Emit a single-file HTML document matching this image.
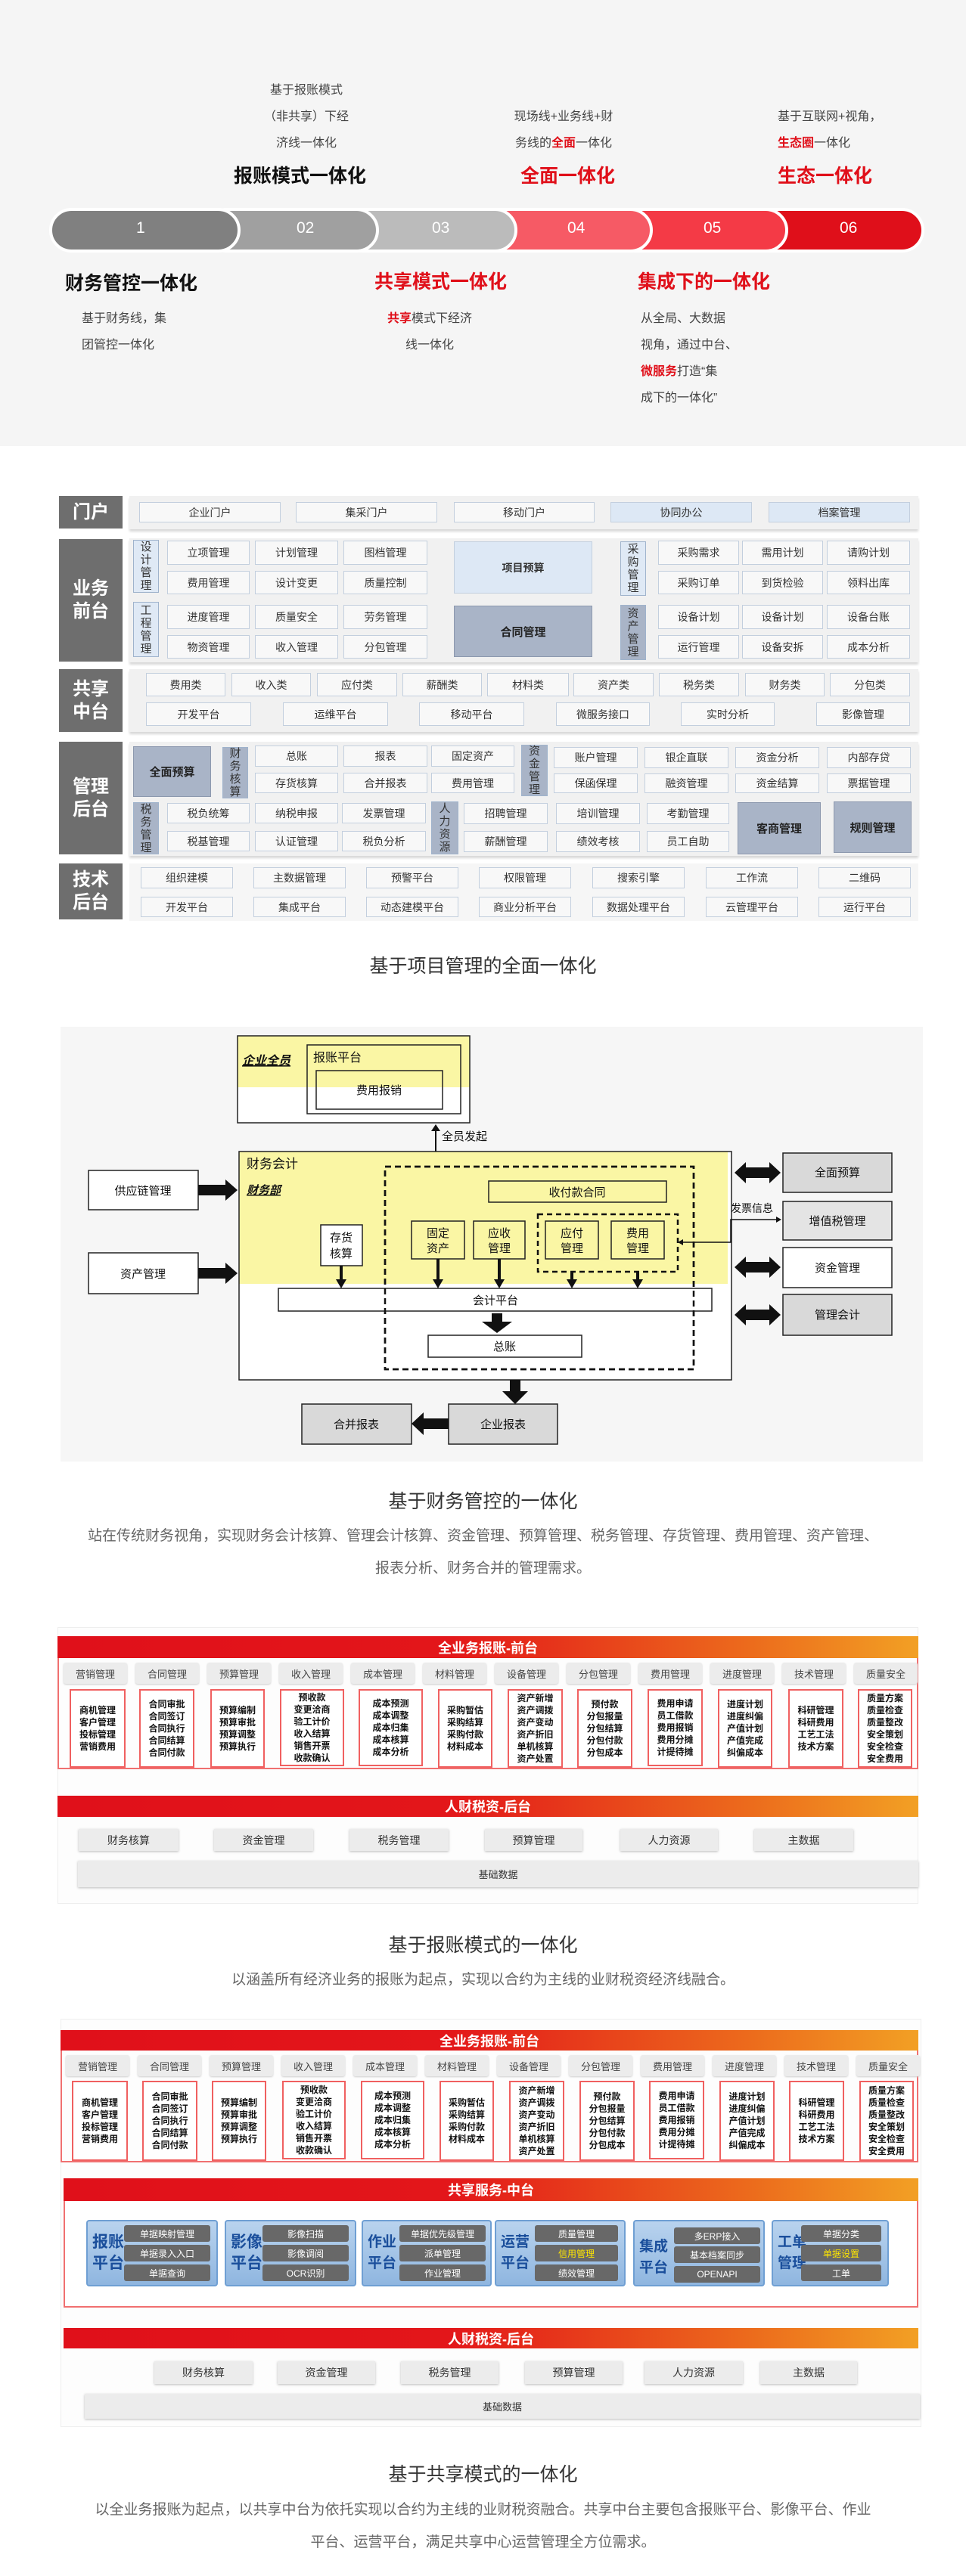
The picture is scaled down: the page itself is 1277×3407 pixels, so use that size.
<!DOCTYPE html>
<html><head><meta charset="utf-8">
<style>
*{margin:0;padding:0;box-sizing:border-box}
body{width:1277px;height:3407px;position:relative;background:#fff;font-family:"Liberation Sans","Noto Sans CJK SC",sans-serif;color:#333;overflow:hidden}
.a{position:absolute}
.c{position:absolute;display:flex;align-items:center;justify-content:center;text-align:center}
.t{position:absolute;white-space:nowrap}
.pill{position:absolute;top:275px;height:59px;border-radius:30px;border:4px solid #fff;color:#fff;font-size:21px;display:flex;align-items:center;justify-content:center}
.lb{background:#6e6e6e;color:#fff;font-weight:bold;font-size:24px;line-height:30px}
.row{background:#f1f1f1;box-shadow:0 3px 3px #d8d8d8}
.it{background:#f8f8f8;border:1px solid #c3cfde;font-size:14px;color:#333}
.lt{background:#dde8f5}
.vl{background:#dfe9f5;border:1px solid #9fb3cc;font-size:15px;line-height:17px;color:#333}
.gb{background:#a9b4c7;border:1px solid #8c98ae;font-weight:bold;font-size:15px;color:#222}
.cap{position:absolute;left:0;width:1277px;text-align:center;font-size:25px;color:#333;line-height:30px}
.par{position:absolute;left:0;width:1277px;text-align:center;font-size:19px;color:#666;line-height:24px;white-space:nowrap}
.ban{position:absolute;left:76px;width:1138px;background:linear-gradient(90deg,#e0101a 0%,#e3161a 45%,#ec6a1c 80%,#f2a024 100%);color:#fff;font-weight:bold;font-size:18px;display:flex;align-items:center;justify-content:center}
.hd{position:absolute;width:84px;height:28px;background:#ececec;border-radius:3px;box-shadow:0 1px 2px #ccc;font-size:13px;color:#444;display:flex;align-items:center;justify-content:center}
.bx{position:absolute;border:2px solid #f06060;background:#fff;font-size:12px;line-height:16px;color:#111;font-weight:bold;display:flex;align-items:center;justify-content:center;text-align:center}
.gi{position:absolute;background:#ececec;box-shadow:0 1px 3px #bbb;font-size:14px;color:#333;display:flex;align-items:center;justify-content:center}
.pb{position:absolute;top:2936px;height:88px;background:linear-gradient(#b9d3ee,#8fb6e0);border:2px solid #6f9fd3;border-radius:4px}
.pl{position:absolute;left:6px;top:14px;font-size:21px;font-weight:bold;color:#1b4f9c;line-height:28px}
.btn{position:absolute;height:22px;background:#686868;border-radius:3px;color:#fff;font-size:12px;display:flex;align-items:center;justify-content:center;white-space:nowrap}
</style></head><body>

<!-- SECTION 1 -->
<div class="a" style="left:0;top:0;width:1277px;height:590px;background:#f5f5f5"></div>
<div class="pill" style="left:990px;width:232px;background:#df0f1a"></div>
<div class="pill" style="left:810px;width:232px;background:#f43a46"></div>
<div class="pill" style="left:630px;width:233px;background:#f65a65"></div>
<div class="pill" style="left:450px;width:234px;background:#bbbbbb"></div>
<div class="pill" style="left:270px;width:231px;background:#a0a0a0"></div>
<div class="pill" style="left:65px;width:253px;background:#808080"></div>
<div class="t" style="left:180px;top:290px;color:#fff;font-size:21px">1</div>
<div class="t" style="left:392px;top:290px;color:#fff;font-size:21px">02</div>
<div class="t" style="left:571px;top:290px;color:#fff;font-size:21px">03</div>
<div class="t" style="left:750px;top:290px;color:#fff;font-size:21px">04</div>
<div class="t" style="left:930px;top:290px;color:#fff;font-size:21px">05</div>
<div class="t" style="left:1110px;top:290px;color:#fff;font-size:21px">06</div>

<div class="a" style="left:320px;top:102px;width:170px;text-align:center;font-size:16px;line-height:35px;color:#444">基于报账模式<br>（非共享）下经<br>济线一体化</div>
<div class="t" style="left:309px;top:213px;font-size:25px;font-weight:bold;color:#111">报账模式一体化</div>
<div class="a" style="left:660px;top:137px;width:170px;text-align:center;font-size:16px;line-height:35px;color:#444">现场线+业务线+财<br>务线的<b style="color:#e0101a">全面</b>一体化</div>
<div class="t" style="left:688px;top:213px;font-size:25px;font-weight:bold;color:#e0101a">全面一体化</div>
<div class="a" style="left:1028px;top:137px;width:170px;font-size:16px;line-height:35px;color:#444">基于互联网+视角，<br><b style="color:#e0101a">生态圈</b>一体化</div>
<div class="t" style="left:1028px;top:213px;font-size:25px;font-weight:bold;color:#e0101a">生态一体化</div>

<div class="t" style="left:86px;top:355px;font-size:25px;font-weight:bold;color:#111">财务管控一体化</div>
<div class="a" style="left:108px;top:404px;font-size:16px;line-height:35px;color:#444">基于财务线，集<br>团管控一体化</div>
<div class="t" style="left:495px;top:353px;font-size:25px;font-weight:bold;color:#e0101a">共享模式一体化</div>
<div class="a" style="left:498px;top:404px;width:140px;text-align:center;font-size:16px;line-height:35px;color:#444"><b style="color:#e0101a">共享</b>模式下经济<br>线一体化</div>
<div class="t" style="left:843px;top:353px;font-size:25px;font-weight:bold;color:#e0101a">集成下的一体化</div>
<div class="a" style="left:847px;top:404px;font-size:16px;line-height:35px;color:#444">从全局、大数据<br>视角，通过中台、<br><b style="color:#e0101a">微服务</b>打造“集<br>成下的一体化”</div>

<!-- SECTION 2 -->
<div class="c lb" style="left:78px;top:656px;width:84px;height:43px">门户</div>
<div class="a row" style="left:171px;top:656px;width:1043px;height:44px"></div>
<div class="c it" style="left:184px;top:664px;width:187px;height:27px">企业门户</div>
<div class="c it" style="left:391px;top:664px;width:187px;height:27px">集采门户</div>
<div class="c it" style="left:600px;top:664px;width:186px;height:27px">移动门户</div>
<div class="c it lt" style="left:807px;top:664px;width:187px;height:27px">协同办公</div>
<div class="c it lt" style="left:1016px;top:664px;width:187px;height:27px">档案管理</div>

<div class="c lb" style="left:78px;top:713px;width:84px;height:162px">业务<br>前台</div>
<div class="a row" style="left:171px;top:712px;width:1043px;height:164px"></div>
<div class="c vl" style="left:176px;top:714px;width:34px;height:70px">设<br>计<br>管<br>理</div>
<div class="c vl" style="left:176px;top:796px;width:34px;height:73px">工<br>程<br>管<br>理</div>
<div class="c it" style="left:221px;top:715px;width:109px;height:32px">立项管理</div>
<div class="c it" style="left:337px;top:715px;width:110px;height:32px">计划管理</div>
<div class="c it" style="left:454px;top:715px;width:111px;height:32px">图档管理</div>
<div class="c it" style="left:221px;top:755px;width:109px;height:31px">费用管理</div>
<div class="c it" style="left:337px;top:755px;width:110px;height:31px">设计变更</div>
<div class="c it" style="left:454px;top:755px;width:111px;height:31px">质量控制</div>
<div class="c it" style="left:221px;top:800px;width:109px;height:32px">进度管理</div>
<div class="c it" style="left:337px;top:800px;width:110px;height:32px">质量安全</div>
<div class="c it" style="left:454px;top:800px;width:111px;height:32px">劳务管理</div>
<div class="c it" style="left:221px;top:840px;width:109px;height:31px">物资管理</div>
<div class="c it" style="left:337px;top:840px;width:110px;height:31px">收入管理</div>
<div class="c it" style="left:454px;top:840px;width:111px;height:31px">分包管理</div>
<div class="c it lt" style="left:600px;top:716px;width:183px;height:69px;font-weight:bold">项目预算</div>
<div class="c gb" style="left:600px;top:801px;width:183px;height:68px">合同管理</div>
<div class="c vl" style="left:820px;top:716px;width:34px;height:72px">采<br>购<br>管<br>理</div>
<div class="c vl" style="left:820px;top:800px;width:34px;height:73px;background:#a9b4c7">资<br>产<br>管<br>理</div>
<div class="c it" style="left:870px;top:715px;width:107px;height:32px">采购需求</div>
<div class="c it" style="left:981px;top:715px;width:107px;height:32px">需用计划</div>
<div class="c it" style="left:1093px;top:715px;width:110px;height:32px">请购计划</div>
<div class="c it" style="left:870px;top:755px;width:107px;height:31px">采购订单</div>
<div class="c it" style="left:981px;top:755px;width:107px;height:31px">到货检验</div>
<div class="c it" style="left:1093px;top:755px;width:110px;height:31px">领料出库</div>
<div class="c it" style="left:870px;top:800px;width:107px;height:32px">设备计划</div>
<div class="c it" style="left:981px;top:800px;width:107px;height:32px">设备计划</div>
<div class="c it" style="left:1093px;top:800px;width:110px;height:32px">设备台账</div>
<div class="c it" style="left:870px;top:840px;width:107px;height:31px">运行管理</div>
<div class="c it" style="left:981px;top:840px;width:107px;height:31px">设备安拆</div>
<div class="c it" style="left:1093px;top:840px;width:110px;height:31px">成本分析</div>

<div class="c lb" style="left:78px;top:885px;width:84px;height:83px">共享<br>中台</div>
<div class="a row" style="left:171px;top:885px;width:1043px;height:83px"></div>
<div class="c it" style="left:193px;top:890px;width:105px;height:31px">费用类</div>
<div class="c it" style="left:306px;top:890px;width:105px;height:31px">收入类</div>
<div class="c it" style="left:419px;top:890px;width:106px;height:31px">应付类</div>
<div class="c it" style="left:532px;top:890px;width:105px;height:31px">薪酬类</div>
<div class="c it" style="left:644px;top:890px;width:108px;height:31px">材料类</div>
<div class="c it" style="left:758px;top:890px;width:106px;height:31px">资产类</div>
<div class="c it" style="left:871px;top:890px;width:106px;height:31px">税务类</div>
<div class="c it" style="left:985px;top:890px;width:105px;height:31px">财务类</div>
<div class="c it" style="left:1097px;top:890px;width:106px;height:31px">分包类</div>
<div class="c it" style="left:193px;top:929px;width:139px;height:31px">开发平台</div>
<div class="c it" style="left:374px;top:929px;width:139px;height:31px">运维平台</div>
<div class="c it" style="left:554px;top:929px;width:139px;height:31px">移动平台</div>
<div class="c it" style="left:735px;top:929px;width:124px;height:31px">微服务接口</div>
<div class="c it" style="left:900px;top:929px;width:124px;height:31px">实时分析</div>
<div class="c it" style="left:1079px;top:929px;width:124px;height:31px">影像管理</div>

<div class="c lb" style="left:78px;top:981px;width:84px;height:149px">管理<br>后台</div>
<div class="a row" style="left:171px;top:981px;width:1043px;height:151px"></div>
<div class="c gb" style="left:176px;top:987px;width:103px;height:67px">全面预算</div>
<div class="c vl" style="left:294px;top:988px;width:34px;height:68px;background:#a9b4c7">财<br>务<br>核<br>算</div>
<div class="c it" style="left:337px;top:986px;width:110px;height:28px">总账</div>
<div class="c it" style="left:454px;top:986px;width:111px;height:28px">报表</div>
<div class="c it" style="left:570px;top:986px;width:110px;height:28px">固定资产</div>
<div class="c it" style="left:337px;top:1022px;width:110px;height:27px">存货核算</div>
<div class="c it" style="left:454px;top:1022px;width:111px;height:27px">合并报表</div>
<div class="c it" style="left:570px;top:1022px;width:110px;height:27px">费用管理</div>
<div class="c vl" style="left:689px;top:985px;width:35px;height:68px;background:#a9b4c7">资<br>金<br>管<br>理</div>
<div class="c it" style="left:732px;top:988px;width:111px;height:28px">账户管理</div>
<div class="c it" style="left:852px;top:988px;width:111px;height:28px">银企直联</div>
<div class="c it" style="left:972px;top:988px;width:111px;height:28px">资金分析</div>
<div class="c it" style="left:1093px;top:988px;width:111px;height:28px">内部存贷</div>
<div class="c it" style="left:732px;top:1023px;width:111px;height:26px">保函保理</div>
<div class="c it" style="left:852px;top:1023px;width:111px;height:26px">融资管理</div>
<div class="c it" style="left:972px;top:1023px;width:111px;height:26px">资金结算</div>
<div class="c it" style="left:1093px;top:1023px;width:111px;height:26px">票据管理</div>
<div class="c vl" style="left:176px;top:1061px;width:34px;height:69px;background:#a9b4c7">税<br>务<br>管<br>理</div>
<div class="c it" style="left:221px;top:1062px;width:109px;height:27px">税负统筹</div>
<div class="c it" style="left:337px;top:1062px;width:110px;height:27px">纳税申报</div>
<div class="c it" style="left:452px;top:1062px;width:111px;height:27px">发票管理</div>
<div class="c it" style="left:221px;top:1099px;width:109px;height:27px">税基管理</div>
<div class="c it" style="left:337px;top:1099px;width:110px;height:27px">认证管理</div>
<div class="c it" style="left:452px;top:1099px;width:111px;height:27px">税负分析</div>
<div class="c vl" style="left:570px;top:1060px;width:36px;height:70px;background:#a9b4c7">人<br>力<br>资<br>源</div>
<div class="c it" style="left:613px;top:1062px;width:111px;height:28px">招聘管理</div>
<div class="c it" style="left:735px;top:1062px;width:111px;height:28px">培训管理</div>
<div class="c it" style="left:855px;top:1062px;width:109px;height:28px">考勤管理</div>
<div class="c it" style="left:613px;top:1099px;width:111px;height:28px">薪酬管理</div>
<div class="c it" style="left:735px;top:1099px;width:111px;height:28px">绩效考核</div>
<div class="c it" style="left:855px;top:1099px;width:109px;height:28px">员工自助</div>
<div class="c gb" style="left:975px;top:1061px;width:110px;height:69px">客商管理</div>
<div class="c gb" style="left:1102px;top:1060px;width:103px;height:68px">规则管理</div>

<div class="c lb" style="left:78px;top:1142px;width:84px;height:74px">技术<br>后台</div>
<div class="a" style="left:171px;top:1142px;width:1043px;height:76px;background:#f6f6f6"></div>
<div class="c it" style="left:186px;top:1147px;width:122px;height:28px">组织建模</div>
<div class="c it" style="left:335px;top:1147px;width:122px;height:28px">主数据管理</div>
<div class="c it" style="left:484px;top:1147px;width:122px;height:28px">预警平台</div>
<div class="c it" style="left:633px;top:1147px;width:122px;height:28px">权限管理</div>
<div class="c it" style="left:783px;top:1147px;width:122px;height:28px">搜索引擎</div>
<div class="c it" style="left:933px;top:1147px;width:122px;height:28px">工作流</div>
<div class="c it" style="left:1082px;top:1147px;width:122px;height:28px">二维码</div>
<div class="c it" style="left:186px;top:1186px;width:122px;height:27px">开发平台</div>
<div class="c it" style="left:335px;top:1186px;width:122px;height:27px">集成平台</div>
<div class="c it" style="left:484px;top:1186px;width:122px;height:27px">动态建模平台</div>
<div class="c it" style="left:633px;top:1186px;width:122px;height:27px">商业分析平台</div>
<div class="c it" style="left:783px;top:1186px;width:122px;height:27px">数据处理平台</div>
<div class="c it" style="left:933px;top:1186px;width:122px;height:27px">云管理平台</div>
<div class="c it" style="left:1082px;top:1186px;width:122px;height:27px">运行平台</div>
<div class="cap" style="top:1263px">基于项目管理的全面一体化</div>

<!-- SECTION 3 -->
<div class="a" style="left:80px;top:1358px;width:1140px;height:575px;background:#f6f6f6"></div>
<svg class="a" style="left:0;top:0" width="1277" height="3407" viewBox="0 0 1277 3407" font-family="Liberation Sans, Noto Sans CJK SC, sans-serif">
<rect x="314" y="1370" width="307" height="68" fill="#faf6a4"/>
<rect x="314" y="1438" width="307" height="47" fill="#fff"/>
<rect x="314" y="1370" width="307" height="115" fill="none" stroke="#222" stroke-width="1.5"/>
<rect x="406" y="1382" width="203" height="91" fill="none" stroke="#222" stroke-width="1.5"/>
<rect x="418" y="1416" width="167" height="51" fill="none" stroke="#222" stroke-width="1.5"/>
<text x="320" y="1408" font-size="16" font-weight="bold" font-style="italic" text-decoration="underline" fill="#111">企业全员</text>
<text x="414" y="1404" font-size="16" fill="#111">报账平台</text>
<text x="501" y="1447" font-size="15" text-anchor="middle" fill="#111">费用报销</text>
<line x1="576" y1="1494" x2="576" y2="1536" stroke="#111" stroke-width="2"/>
<polygon points="570,1496 582,1496 576,1487" fill="#111"/><polygon points="570,1534 582,1534 576,1543" fill="#111"/>
<text x="584" y="1508" font-size="15" fill="#111">全员发起</text>
<rect x="316" y="1523" width="651" height="302" fill="#fff"/>
<rect x="316" y="1523" width="646" height="175" fill="#faf6a4"/>
<rect x="316" y="1523" width="651" height="302" fill="none" stroke="#222" stroke-width="1.5"/>
<text x="326" y="1545" font-size="17" fill="#111">财务会计</text>
<text x="326" y="1579" font-size="15" font-weight="bold" font-style="italic" text-decoration="underline" fill="#111">财务部</text>
<rect x="509" y="1543" width="408" height="268" fill="none" stroke="#111" stroke-width="2.5" stroke-dasharray="8,5"/>
<rect x="646" y="1562" width="235" height="28" fill="none" stroke="#222" stroke-width="1.5"/>
<text x="763" y="1582" font-size="15" text-anchor="middle" fill="#111">收付款合同</text>
<rect x="711" y="1606" width="185" height="76" fill="none" stroke="#111" stroke-width="2.5" stroke-dasharray="7,5"/>
<rect x="424" y="1620" width="55" height="54" fill="#fff" stroke="#222" stroke-width="1.5"/>
<text x="451" y="1642" font-size="15" text-anchor="middle" fill="#111">存货</text><text x="451" y="1663" font-size="15" text-anchor="middle" fill="#111">核算</text>
<g fill="none" stroke="#222" stroke-width="1.5">
<rect x="544" y="1615" width="70" height="50"/><rect x="626" y="1615" width="68" height="50"/><rect x="721" y="1615" width="70" height="50"/><rect x="808" y="1615" width="70" height="50"/></g>
<g font-size="15" text-anchor="middle" fill="#111">
<text x="579" y="1636">固定</text><text x="579" y="1656">资产</text>
<text x="660" y="1636">应收</text><text x="660" y="1656">管理</text>
<text x="756" y="1636">应付</text><text x="756" y="1656">管理</text>
<text x="843" y="1636">费用</text><text x="843" y="1656">管理</text></g>
<g stroke="#111" stroke-width="4">
<line x1="451" y1="1674" x2="451" y2="1694"/><line x1="579" y1="1665" x2="579" y2="1694"/><line x1="660" y1="1665" x2="660" y2="1694"/><line x1="756" y1="1682" x2="756" y2="1694"/><line x1="843" y1="1682" x2="843" y2="1694"/></g>
<g fill="#111">
<polygon points="444,1692 458,1692 451,1704"/><polygon points="572,1692 586,1692 579,1704"/><polygon points="653,1692 667,1692 660,1704"/><polygon points="749,1692 763,1692 756,1704"/><polygon points="836,1692 850,1692 843,1704"/></g>
<rect x="368" y="1704" width="573" height="30" fill="#fff" stroke="#222" stroke-width="1.5"/>
<text x="655" y="1725" font-size="15" text-anchor="middle" fill="#111">会计平台</text>
<polygon points="650,1737 664,1737 664,1748 677,1748 657,1763 637,1748 650,1748" fill="#111"/>
<rect x="566" y="1766" width="203" height="29" fill="#fff" stroke="#222" stroke-width="1.5"/>
<text x="667" y="1786" font-size="15" text-anchor="middle" fill="#111">总账</text>
<rect x="509" y="1543" width="408" height="268" fill="none" stroke="#111" stroke-width="2.5" stroke-dasharray="8,5"/>
<g fill="#fff" stroke="#222" stroke-width="1.5"><rect x="117" y="1548" width="145" height="52"/><rect x="117" y="1657" width="145" height="54"/></g>
<text x="189" y="1580" font-size="15" text-anchor="middle" fill="#111">供应链管理</text>
<text x="189" y="1690" font-size="15" text-anchor="middle" fill="#111">资产管理</text>
<polygon points="262,1567 298,1567 298,1560 314,1574 298,1588 298,1581 262,1581" fill="#111"/>
<polygon points="262,1677 298,1677 298,1670 314,1684 298,1698 298,1691 262,1691" fill="#111"/>
<g stroke="#222" stroke-width="1.5"><rect x="1035" y="1525" width="144" height="52" fill="#d9d9d9"/><rect x="1035" y="1589" width="144" height="51" fill="#e4e4e4"/><rect x="1035" y="1650" width="144" height="53" fill="#fff"/><rect x="1035" y="1712" width="144" height="54" fill="#d9d9d9"/></g>
<g font-size="15" text-anchor="middle" fill="#111"><text x="1107" y="1556">全面预算</text><text x="1107" y="1620">增值税管理</text><text x="1107" y="1682">资金管理</text><text x="1107" y="1744">管理会计</text></g>
<g fill="#111">
<polygon points="971,1551 986,1537 986,1544 1017,1544 1017,1537 1032,1551 1017,1565 1017,1558 986,1558 986,1565"/>
<polygon points="971,1676 986,1662 986,1669 1017,1669 1017,1662 1032,1676 1017,1690 1017,1683 986,1683 986,1690"/>
<polygon points="971,1739 986,1725 986,1732 1017,1732 1017,1725 1032,1739 1017,1753 1017,1746 986,1746 986,1753"/></g>
<polyline points="900,1643 966,1643 966,1613 1028,1613" fill="none" stroke="#111" stroke-width="1.5"/>
<polygon points="1033,1613 1026,1609 1026,1617" fill="#111"/><polygon points="896,1643 903,1639 903,1647" fill="#111"/>
<text x="966" y="1603" font-size="14" fill="#111">发票信息</text>
<polygon points="674,1825 688,1825 688,1840 698,1840 681,1857 664,1840 674,1840" fill="#111"/>
<g stroke="#222" stroke-width="1.5" fill="#d9d9d9"><rect x="593" y="1857" width="144" height="53"/><rect x="399" y="1857" width="145" height="53"/></g>
<text x="665" y="1889" font-size="15" text-anchor="middle" fill="#111">企业报表</text>
<text x="471" y="1889" font-size="15" text-anchor="middle" fill="#111">合并报表</text>
<polygon points="593,1876 560,1876 560,1868 544,1883 560,1898 560,1890 593,1890" fill="#111"/>

<!-- arrows sec4/5 -->
<g fill="#f0930f">
<polygon points="353,2341 361,2341 361,2354 368,2354 357,2366 346,2354 353,2354"/>
<polygon points="807,2364 815,2364 815,2352 822,2352 811,2340 800,2352 807,2352"/>
<polygon points="353,2860 361,2860 361,2870 368,2870 357,2882 346,2870 353,2870"/>
<polygon points="807,2882 815,2882 815,2872 822,2872 811,2860 800,2872 807,2872"/>
<polygon points="353,3055 361,3055 361,3066 368,3066 357,3078 346,3066 353,3066"/>
<polygon points="807,3078 815,3078 815,3067 822,3067 811,3055 800,3067 807,3067"/></g>
</svg>
<div class="cap" style="top:1971px">基于财务管控的一体化</div>
<div class="par" style="top:2020px">站在传统财务视角，实现财务会计核算、管理会计核算、资金管理、预算管理、税务管理、存货管理、费用管理、资产管理、</div>
<div class="par" style="top:2063px">报表分析、财务合并的管理需求。</div>

<!-- SECTION 4 -->
<div class="a" style="left:76px;top:2152px;width:1138px;height:366px;border:1px solid #eee;background:#fdfdfd"></div>
<div class="ban" style="top:2164px;height:29px">全业务报账-前台</div>
<div class="a" style="left:76px;top:2193px;width:1138px;height:147px;border:2px solid #f07070;border-top:none"></div>
<div class="hd" style="left:84px;top:2199px">营销管理</div><div class="hd" style="left:179px;top:2199px">合同管理</div><div class="hd" style="left:274px;top:2199px">预算管理</div><div class="hd" style="left:369px;top:2199px">收入管理</div><div class="hd" style="left:464px;top:2199px">成本管理</div><div class="hd" style="left:559px;top:2199px">材料管理</div><div class="hd" style="left:654px;top:2199px">设备管理</div><div class="hd" style="left:749px;top:2199px">分包管理</div><div class="hd" style="left:844px;top:2199px">费用管理</div><div class="hd" style="left:939px;top:2199px">进度管理</div><div class="hd" style="left:1034px;top:2199px">技术管理</div><div class="hd" style="left:1129px;top:2199px">质量安全</div>
<div class="bx" style="left:92px;top:2234px;width:74px;height:104px">商机管理<br>客户管理<br>投标管理<br>营销费用</div>
<div class="bx" style="left:184px;top:2234px;width:73px;height:104px">合同审批<br>合同签订<br>合同执行<br>合同结算<br>合同付款</div>
<div class="bx" style="left:278px;top:2234px;width:72px;height:104px">预算编制<br>预算审批<br>预算调整<br>预算执行</div>
<div class="bx" style="left:370px;top:2234px;width:85px;height:102px">预收款<br>变更洽商<br>验工计价<br>收入结算<br>销售开票<br>收款确认</div>
<div class="bx" style="left:474px;top:2234px;width:85px;height:102px">成本预测<br>成本调整<br>成本归集<br>成本核算<br>成本分析</div>
<div class="bx" style="left:579px;top:2234px;width:72px;height:104px">采购暂估<br>采购结算<br>采购付款<br>材料成本</div>
<div class="bx" style="left:671px;top:2234px;width:73px;height:104px">资产新增<br>资产调拨<br>资产变动<br>资产折旧<br>单机核算<br>资产处置</div>
<div class="bx" style="left:763px;top:2234px;width:73px;height:104px">预付款<br>分包报量<br>分包结算<br>分包付款<br>分包成本</div>
<div class="bx" style="left:856px;top:2234px;width:73px;height:102px">费用申请<br>员工借款<br>费用报销<br>费用分摊<br>计提待摊</div>
<div class="bx" style="left:949px;top:2234px;width:72px;height:104px">进度计划<br>进度纠偏<br>产值计划<br>产值完成<br>纠偏成本</div>
<div class="bx" style="left:1042px;top:2234px;width:73px;height:104px">科研管理<br>科研费用<br>工艺工法<br>技术方案</div>
<div class="bx" style="left:1134px;top:2234px;width:72px;height:104px">质量方案<br>质量检查<br>质量整改<br>安全策划<br>安全检查<br>安全费用</div>
<div class="ban" style="top:2375px;height:28px">人财税资-后台</div>
<div class="gi" style="left:104px;top:2419px;width:132px;height:29px">财务核算</div>
<div class="gi" style="left:283px;top:2419px;width:131px;height:29px">资金管理</div>
<div class="gi" style="left:462px;top:2419px;width:131px;height:29px">税务管理</div>
<div class="gi" style="left:641px;top:2419px;width:129px;height:29px">预算管理</div>
<div class="gi" style="left:820px;top:2419px;width:129px;height:29px">人力资源</div>
<div class="gi" style="left:997px;top:2419px;width:131px;height:29px">主数据</div>
<div class="gi" style="left:103px;top:2461px;width:1111px;height:35px;font-size:13px">基础数据</div>
<div class="cap" style="top:2558px">基于报账模式的一体化</div>
<div class="par" style="top:2607px">以涵盖所有经济业务的报账为起点，实现以合约为主线的业财税资经济线融合。</div>

<!-- SECTION 5 -->
<div class="a" style="left:80px;top:2670px;width:1138px;height:540px;border:1px solid #eee;background:#fdfdfd"></div>
<div class="ban" style="left:80px;top:2685px;height:27px;width:1134px">全业务报账-前台</div>
<div class="a" style="left:80px;top:2712px;width:1134px;height:148px;border:2px solid #f07070;border-top:none"></div>
<div class="hd" style="left:87px;top:2718px">营销管理</div><div class="hd" style="left:182px;top:2718px">合同管理</div><div class="hd" style="left:277px;top:2718px">预算管理</div><div class="hd" style="left:372px;top:2718px">收入管理</div><div class="hd" style="left:467px;top:2718px">成本管理</div><div class="hd" style="left:562px;top:2718px">材料管理</div><div class="hd" style="left:657px;top:2718px">设备管理</div><div class="hd" style="left:752px;top:2718px">分包管理</div><div class="hd" style="left:847px;top:2718px">费用管理</div><div class="hd" style="left:942px;top:2718px">进度管理</div><div class="hd" style="left:1037px;top:2718px">技术管理</div><div class="hd" style="left:1132px;top:2718px">质量安全</div>
<div class="bx" style="left:95px;top:2752px;width:74px;height:106px">商机管理<br>客户管理<br>投标管理<br>营销费用</div>
<div class="bx" style="left:188px;top:2752px;width:73px;height:106px">合同审批<br>合同签订<br>合同执行<br>合同结算<br>合同付款</div>
<div class="bx" style="left:280px;top:2752px;width:72px;height:106px">预算编制<br>预算审批<br>预算调整<br>预算执行</div>
<div class="bx" style="left:373px;top:2752px;width:84px;height:104px">预收款<br>变更洽商<br>验工计价<br>收入结算<br>销售开票<br>收款确认</div>
<div class="bx" style="left:477px;top:2752px;width:84px;height:104px">成本预测<br>成本调整<br>成本归集<br>成本核算<br>成本分析</div>
<div class="bx" style="left:581px;top:2752px;width:72px;height:106px">采购暂估<br>采购结算<br>采购付款<br>材料成本</div>
<div class="bx" style="left:673px;top:2752px;width:73px;height:106px">资产新增<br>资产调拨<br>资产变动<br>资产折旧<br>单机核算<br>资产处置</div>
<div class="bx" style="left:766px;top:2752px;width:73px;height:106px">预付款<br>分包报量<br>分包结算<br>分包付款<br>分包成本</div>
<div class="bx" style="left:858px;top:2752px;width:73px;height:104px">费用申请<br>员工借款<br>费用报销<br>费用分摊<br>计提待摊</div>
<div class="bx" style="left:951px;top:2752px;width:73px;height:106px">进度计划<br>进度纠偏<br>产值计划<br>产值完成<br>纠偏成本</div>
<div class="bx" style="left:1043px;top:2752px;width:73px;height:106px">科研管理<br>科研费用<br>工艺工法<br>技术方案</div>
<div class="bx" style="left:1136px;top:2752px;width:72px;height:106px">质量方案<br>质量检查<br>质量整改<br>安全策划<br>安全检查<br>安全费用</div>

<div class="ban" style="left:84px;top:2881px;height:30px;width:1130px">共享服务-中台</div>
<div class="a" style="left:84px;top:2911px;width:1130px;height:141px;border:2px solid #f07070;border-top:none;background:#fff"></div>
<div class="pb" style="left:114px;width:174px"><div class="pl">报账<br>平台</div></div>
<div class="btn" style="left:164px;top:2943px;width:114px">单据映射管理</div><div class="btn" style="left:164px;top:2969px;width:114px">单据录入入口</div><div class="btn" style="left:164px;top:2995px;width:114px">单据查询</div>
<div class="pb" style="left:297px;width:174px"><div class="pl">影像<br>平台</div></div>
<div class="btn" style="left:347px;top:2943px;width:114px">影像扫描</div><div class="btn" style="left:347px;top:2969px;width:114px">影像调阅</div><div class="btn" style="left:347px;top:2995px;width:114px">OCR识别</div>
<div class="pb" style="left:478px;width:172px"><div class="pl" style="font-size:19px">作业<br>平台</div></div>
<div class="btn" style="left:528px;top:2943px;width:114px">单据优先级管理</div><div class="btn" style="left:528px;top:2969px;width:114px">派单管理</div><div class="btn" style="left:528px;top:2995px;width:114px">作业管理</div>
<div class="pb" style="left:654px;width:173px"><div class="pl" style="font-size:19px">运营<br>平台</div></div>
<div class="btn" style="left:707px;top:2943px;width:110px">质量管理</div><div class="btn" style="left:707px;top:2969px;width:110px;color:#ffe600">信用管理</div><div class="btn" style="left:707px;top:2995px;width:110px">绩效管理</div>
<div class="pb" style="left:837px;width:174px"><div class="pl" style="font-size:19px;top:20px">集成<br>平台</div></div>
<div class="btn" style="left:891px;top:2946px;width:114px">多ERP接入</div><div class="btn" style="left:891px;top:2971px;width:114px">基本档案同步</div><div class="btn" style="left:891px;top:2997px;width:114px">OPENAPI</div>
<div class="pb" style="left:1020px;width:155px"><div class="pl" style="font-size:19px">工单<br>管理</div></div>
<div class="btn" style="left:1059px;top:2943px;width:106px">单据分类</div><div class="btn" style="left:1059px;top:2969px;width:106px;color:#ffe600">单据设置</div><div class="btn" style="left:1059px;top:2995px;width:106px">工单</div>

<div class="ban" style="left:84px;top:3079px;height:27px;width:1130px">人财税资-后台</div>
<div class="gi" style="left:204px;top:3123px;width:130px;height:30px">财务核算</div>
<div class="gi" style="left:367px;top:3123px;width:129px;height:30px">资金管理</div>
<div class="gi" style="left:530px;top:3123px;width:129px;height:30px">税务管理</div>
<div class="gi" style="left:694px;top:3123px;width:129px;height:30px">预算管理</div>
<div class="gi" style="left:852px;top:3123px;width:130px;height:30px">人力资源</div>
<div class="gi" style="left:1005px;top:3123px;width:128px;height:30px">主数据</div>
<div class="gi" style="left:112px;top:3166px;width:1104px;height:33px;font-size:13px">基础数据</div>
<div class="cap" style="top:3258px">基于共享模式的一体化</div>
<div class="par" style="top:3308px">以全业务报账为起点，以共享中台为依托实现以合约为主线的业财税资融合。共享中台主要包含报账平台、影像平台、作业</div>
<div class="par" style="top:3351px">平台、运营平台，满足共享中心运营管理全方位需求。</div>
</body></html>
